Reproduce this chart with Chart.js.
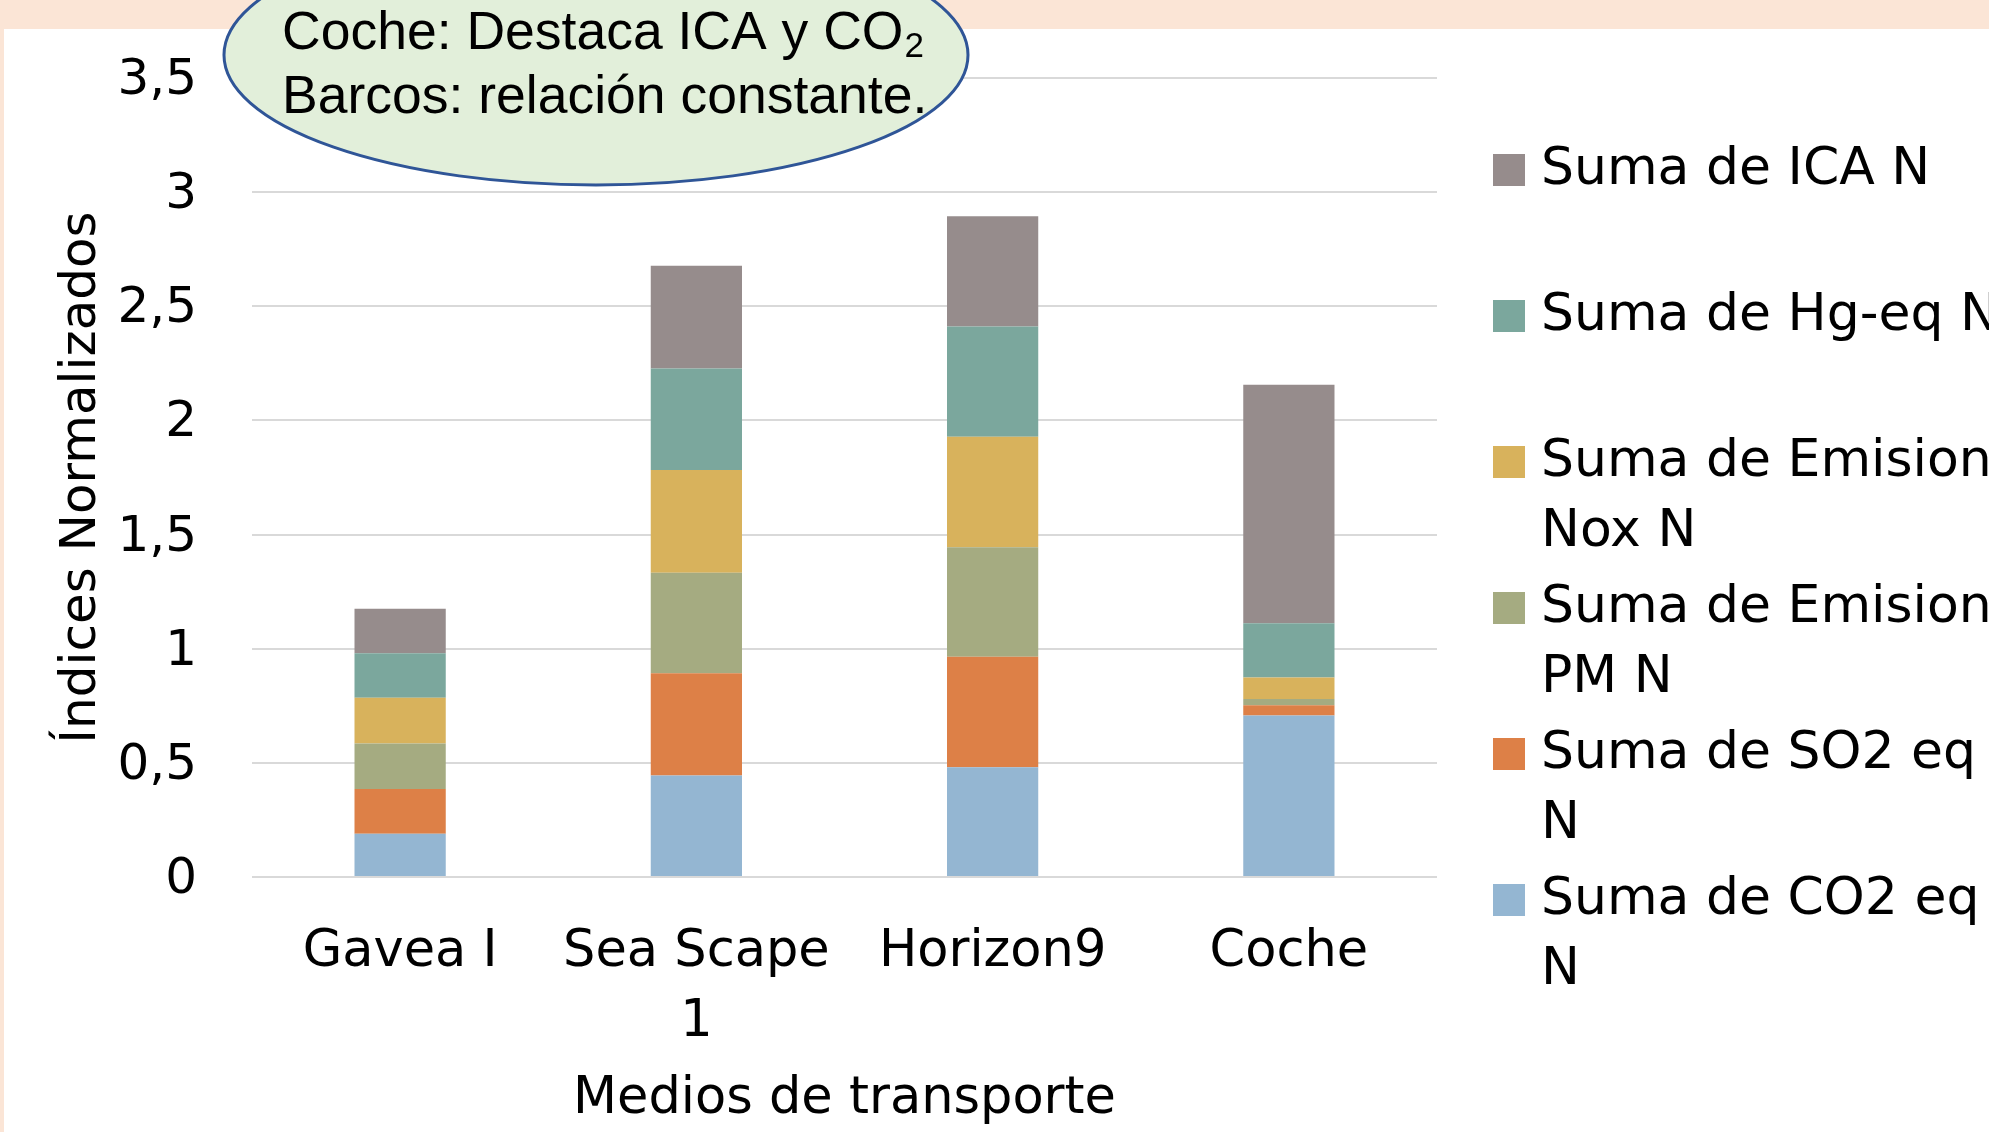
<!DOCTYPE html>
<html><head><meta charset="utf-8">
<script src="https://cdn.jsdelivr.net/npm/chart.js@4.4.1/dist/chart.umd.min.js"></script>
<style>html,body{margin:0;padding:0;background:#fff;overflow:hidden}canvas{display:block}</style>
</head><body>
<canvas id="c" width="1989" height="1132"></canvas>
<script>
// ---- data ----
const categories = [['Gavea I'], ['Sea Scape', '1'], ['Horizon9'], ['Coche']];
const seriesLabels = [
  ['Suma de CO2 eq', 'N'],
  ['Suma de SO2 eq', 'N'],
  ['Suma de Emisiones', 'PM N'],
  ['Suma de Emisiones', 'Nox N'],
  ['Suma de Hg-eq N'],
  ['Suma de ICA N']
];
const co2 = [0.19, 0.445, 0.481, 0.707];
const so2 = [0.195, 0.448, 0.484, 0.045];
const pm  = [0.20, 0.44, 0.479, 0.028];
const nox = [0.20, 0.45, 0.484, 0.094];
const hg  = [0.195, 0.445, 0.483, 0.238];
const ica = [0.195, 0.45, 0.483, 1.044];
const yTickValues = [0, 0.5, 1, 1.5, 2, 2.5, 3, 3.5];
const yTitle = 'Índices Normalizados';
const xTitle = 'Medios de transporte';
const noteLines = ['Coche: Destaca ICA y CO', 'Barcos: relación constante.'];

// ---- styles ----
const seriesColors = ['#94B6D2', '#DD8047', '#A5AB81', '#D8B25C', '#7BA79D', '#968C8C'];
const seriesValues = [co2, so2, pm, nox, hg, ica];
const FONT = 'DejaVu Sans';

Chart.defaults.font.family = FONT;
Chart.defaults.color = '#000';

const bgPlugin = {
  id: 'bg',
  beforeDraw(chart) {
    const ctx = chart.ctx;
    ctx.save();
    ctx.fillStyle = '#FBE5D6';
    ctx.fillRect(0, 0, chart.width, chart.height);
    ctx.fillStyle = '#FFFFFF';
    ctx.fillRect(4, 29, chart.width - 4, chart.height - 29);
    ctx.restore();
  }
};

const overlayPlugin = {
  id: 'overlay',
  afterDraw(chart) {
    const ctx = chart.ctx;
    ctx.save();
    // legend (reversed order)
    const ds = chart.data.datasets;
    ctx.font = '52px "' + FONT + '"';
    ctx.textBaseline = 'middle';
    ctx.textAlign = 'left';
    for (let k = 0; k < ds.length; k++) {
      const d = ds[ds.length - 1 - k];
      const y0 = 170 + k * 146;
      ctx.fillStyle = d.backgroundColor;
      ctx.fillRect(1493, y0 - 16, 32, 32);
      ctx.fillStyle = '#000';
      d.legendLines.forEach((ln, j) => ctx.fillText(ln, 1541, y0 + j * 70));
    }
    // callout ellipse
    ctx.beginPath();
    ctx.ellipse(596, 55, 372, 130, 0, 0, Math.PI * 2);
    ctx.fillStyle = '#E2EFDA';
    ctx.fill();
    ctx.lineWidth = 3;
    ctx.strokeStyle = '#2F5597';
    ctx.stroke();
    ctx.fillStyle = '#000';
    ctx.font = '53.5px "Liberation Sans"';
    ctx.textBaseline = 'middle';
    ctx.fillText(noteLines[0], 282, 34);
    const w = ctx.measureText(noteLines[0]).width;
    ctx.font = '35px "Liberation Sans"';
    ctx.fillText('2', 282 + w + 1, 47);
    ctx.font = '53.5px "Liberation Sans"';
    ctx.fillText(noteLines[1], 282, 98);
    ctx.restore();
  }
};

new Chart(document.getElementById('c'), {
  type: 'bar',
  data: {
    labels: categories,
    datasets: seriesValues.map((vals, i) => ({
      label: seriesLabels[i].join(' '),
      legendLines: seriesLabels[i],
      data: vals,
      backgroundColor: seriesColors[i],
      borderWidth: 0,
      categoryPercentage: 1,
      barPercentage: 0.308
    }))
  },
  options: {
    responsive: false,
    animation: false,
    devicePixelRatio: 1,
    layout: { padding: { left: 0, top: 78, right: 552, bottom: 0 } },
    plugins: { legend: { display: false }, tooltip: { enabled: false } },
    scales: {
      x: {
        stacked: true,
        grid: { display: false },
        border: { display: false },
        ticks: { font: { size: 51, lineHeight: 1.37 }, padding: 33, maxRotation: 0, autoSkip: false },
        title: { display: true, text: xTitle, font: { size: 51 }, padding: { top: 0, bottom: 2 } },
        afterFit(s) { s.height = 255; }
      },
      y: {
        stacked: true,
        min: 0, max: 3.5,
        grid: { color: '#D9D9D9', lineWidth: 2, drawTicks: true, tickLength: 55, tickColor: 'rgba(0,0,0,0)' },
        border: { display: false },
        ticks: {
          font: { size: 50 }, padding: 0, labelOffset: 3,
          callback: v => String(v).replace('.', ',')
        },
        afterBuildTicks(s) { s.ticks = yTickValues.map(v => ({ value: v })); },
        title: { display: true, text: yTitle, font: { size: 50 }, padding: { top: 52, bottom: 0 } },
        afterFit(s) { s.width = 252; }
      }
    }
  },
  plugins: [bgPlugin, overlayPlugin]
});
</script>
</body></html>
